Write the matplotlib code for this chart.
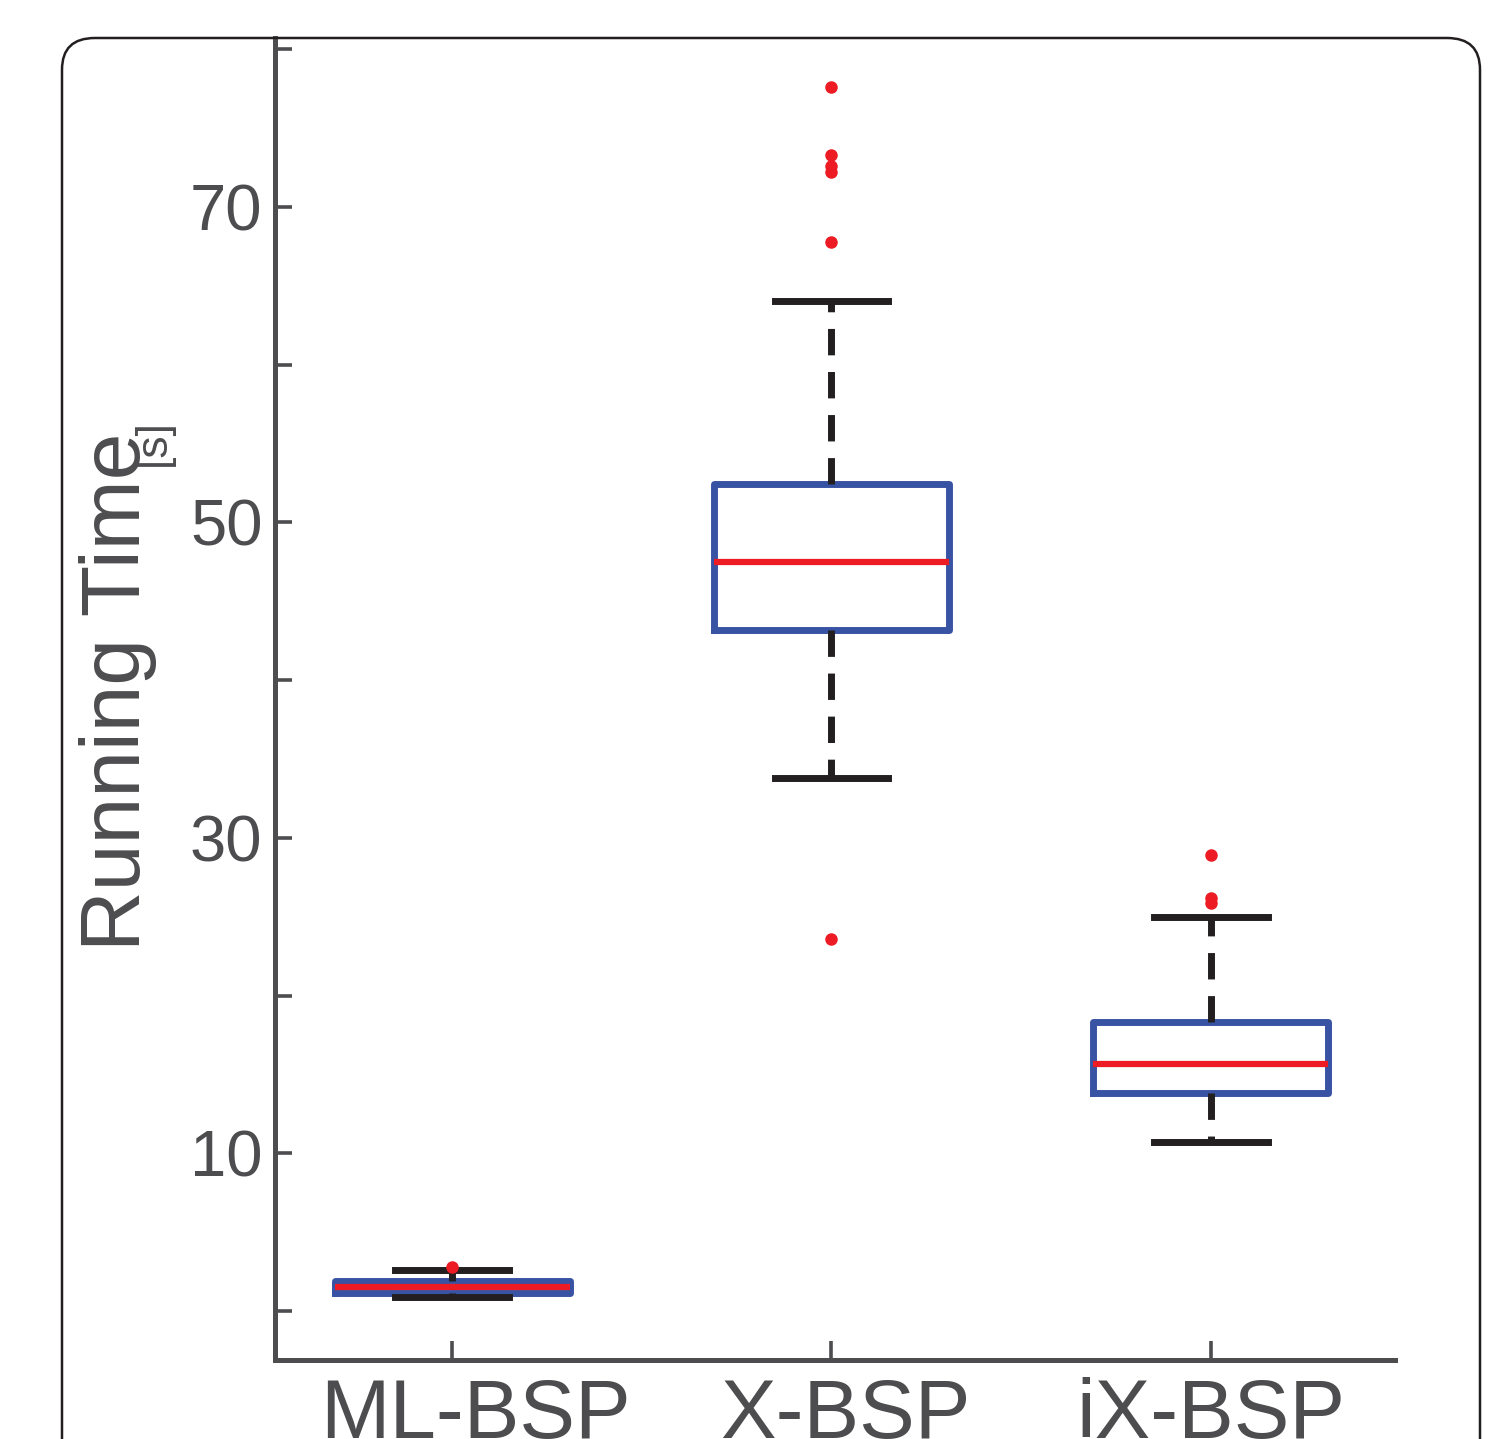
import matplotlib
matplotlib.use("Agg")
import matplotlib.pyplot as plt
import matplotlib.transforms as mtransforms
from matplotlib.patches import FancyBboxPatch

# box statistics (seconds)
labels = ["ML-BSP", "X-BSP", "iX-BSP"]
med = [1.52, 47.5, 15.65]
q1 = [1.14, 43.2, 13.8]
q3 = [1.9, 52.4, 18.3]
whislo = [0.89, 33.8, 10.7]
whishi = [2.6, 64.0, 25.0]
fliers = [[2.79],
          [77.6, 73.3, 72.6, 72.2, 67.8, 23.6],
          [28.9, 26.2, 25.9]]

yticks = [0, 10, 20, 30, 40, 50, 60, 70, 80]
yticklabels = ["", "10", "", "30", "", "50", "", "70", ""]

gray = "#4d4d4f"
blue = "#3953a4"
red = "#ed1c24"
black = "#231f20"

plt.rcParams["font.family"] = ["Liberation Sans", "DejaVu Sans"]

W, H = 1494, 1439
fig = plt.figure(figsize=(W / 100, H / 100), dpi=100)

# rounded outer frame
frame = FancyBboxPatch((62 / W, -0.05), (1480 - 62) / W, 1.05 - 38 / H,
                       boxstyle="round,pad=0,rounding_size=0.022",
                       transform=fig.transFigure, facecolor="none",
                       edgecolor=black, linewidth=1.8, zorder=0)
fig.patches.append(frame)

ax = fig.add_axes([275 / W, 79 / H, 1120 / W, (1360 - 38) / H])

stats = []
for i in range(len(labels)):
    stats.append({"med": med[i], "q1": q1[i], "q3": q3[i],
                  "whislo": whislo[i], "whishi": whishi[i],
                  "fliers": fliers[i], "label": labels[i]})

ax.bxp(stats, positions=[1, 2, 3], widths=0.62, capwidths=0.30,
       boxprops=dict(color=blue, linewidth=5, solid_joinstyle="round"),
       medianprops=dict(color=red, linewidth=4.5, solid_capstyle="butt"),
       whiskerprops=dict(color=black, linewidth=5, linestyle=(0, (3.8, 2.4))),
       capprops=dict(color=black, linewidth=5),
       flierprops=dict(marker="o", markerfacecolor=red, markeredgecolor=red,
                       markersize=8, linestyle="none"))

ax.set_xlim(0.533, 3.486)
ax.set_ylim(-3.1, 80.7)
ax.set_yticks(yticks)
ax.set_yticklabels(yticklabels)

for s in ["top", "right"]:
    ax.spines[s].set_visible(False)
for s in ["left", "bottom"]:
    ax.spines[s].set_color(gray)
    ax.spines[s].set_linewidth(3.6)

ax.tick_params(axis="y", direction="in", length=12, width=2.6, color=gray,
               labelcolor=gray, labelsize=47, pad=9)
ax.tick_params(axis="x", direction="in", length=14, width=2.6, color=gray,
               labelcolor=gray, labelsize=60, pad=12)

# the category labels sit a little right of their ticks in the original
shifts = [23, 14, 0]
for lab, dx in zip(ax.get_xticklabels(), shifts):
    lab.set_transform(lab.get_transform() +
                      mtransforms.ScaledTranslation(dx / 100, 0, fig.dpi_scale_trans))

fig.text(118 / W, 1 - 692 / H, "Running Time", rotation=90, ha="center",
         va="center", fontsize=60.5, color=gray)
fig.text(153 / W, 1 - 443 / H, "[s]", rotation=90, ha="center",
         va="center", fontsize=32, color=gray)

fig.savefig("out.png", dpi=100)
